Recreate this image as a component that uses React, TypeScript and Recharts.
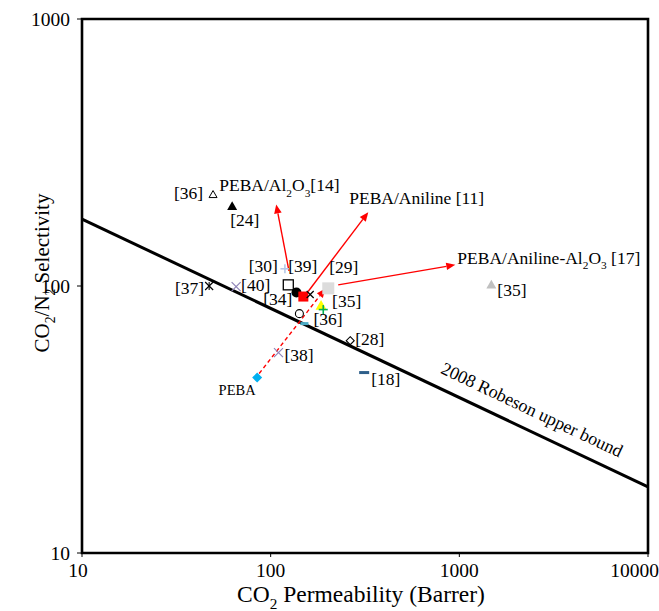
import React from 'react';
import { ScatterChart, Scatter, XAxis, YAxis, ReferenceLine, ReferenceArea } from 'recharts';

const FONT = '"Liberation Serif", "Times New Roman", serif';

const xTicks = [10, 100, 1000, 10000];
const yTicks = [10, 100, 1000];

// CO2 permeability (Barrer) vs CO2/N2 selectivity
const points = [
  { id: 'p36a', x: 49.5, y: 220, label: '[36]' },
  { id: 'p24', x: 62.5, y: 199, label: '[24]' },
  { id: 'p30', x: 119, y: 116, label: '[30]' },
  { id: 'p39', x: 124, y: 101, label: '[39]' },
  { id: 'p29', x: 202, y: 98, label: '[29]' },
  { id: 'p34', x: 137, y: 94.5, label: '[34]' },
  { id: 'pAni', x: 149, y: 91.3, label: '' },
  { id: 'pX', x: 162, y: 92.9, label: '' },
  { id: 'p37', x: 47.2, y: 100, label: '[37]' },
  { id: 'p40', x: 65.6, y: 99.5, label: '[40]' },
  { id: 'p35y', x: 185, y: 84.5, label: '[35]' },
  { id: 'p35g', x: 190, y: 81.6, label: '' },
  { id: 'p36b', x: 142, y: 78.8, label: '[36]' },
  { id: 'pDash', x: 151, y: 72.3, label: '' },
  { id: 'p28', x: 264, y: 62.4, label: '[28]' },
  { id: 'p38', x: 110, y: 56.3, label: '[38]' },
  { id: 'peba', x: 84.8, y: 45.4, label: 'PEBA' },
  { id: 'p18', x: 313, y: 47.4, label: '[18]' },
  { id: 'p35b', x: 1478, y: 101, label: '[35]' },
];

const arrows = [
  { id: 'al2o3', from: [125, 114], to: [107, 202], label: 'PEBA/Al_2O_3[14]' },
  { id: 'aniline', from: [158, 95.4], to: [329, 189], label: 'PEBA/Aniline [11]' },
  { id: 'anilineAl', from: [228, 101], to: [952, 120], label: 'PEBA/Aniline-Al_2O_3 [17]' },
  { id: 'pebaPath', from: [86.9, 47.0], to: [195, 97.8], label: '' },
];

const robesonX = [10, 10000];
const robesonY = [178, 17.7];

type Look = {
  shape: string;
  color: string;
  size: number;
  dx?: number;
  dy?: number;
  anchor?: 'start' | 'middle' | 'end';
  font?: number;
};

const look: Record<string, Look> = {
  p36a: { shape: 'triangleOpen', color: '#000', size: 8, dx: -10, dy: 4, anchor: 'end' },
  p24: { shape: 'triangle', color: '#000', size: 10, dx: -2, dy: 20 },
  p30: { shape: 'plus', color: '#b4c7e7', size: 9, dx: -7, dy: 3, anchor: 'end' },
  p39: { shape: 'squareOpen', color: '#000', size: 10, dx: 0, dy: -13 },
  p29: { shape: 'square', color: '#dcdcdc', size: 12, dx: 1, dy: -15 },
  p34: { shape: 'circle', color: '#000', size: 10, dx: -4, dy: 12, anchor: 'end' },
  pAni: { shape: 'square', color: '#ff0000', size: 10 },
  pX: { shape: 'x', color: '#000', size: 7 },
  p37: { shape: 'star', color: '#000', size: 8, dx: -5, dy: 8, anchor: 'end' },
  p40: { shape: 'x', color: '#8f84b8', size: 9, dx: 5, dy: 4 },
  p35y: { shape: 'triangle', color: '#ffff00', size: 11, dx: 11, dy: 1 },
  p35g: { shape: 'plus', color: '#00b050', size: 9 },
  p36b: { shape: 'circleOpen', color: '#000', size: 9, dx: 14, dy: 11 },
  pDash: { shape: 'dash', color: '#4bacc6', size: 8 },
  p28: { shape: 'diamondOpen', color: '#000', size: 8, dx: 5, dy: 4 },
  p38: { shape: 'x', color: '#8f84b8', size: 9, dx: 6, dy: 8 },
  peba: { shape: 'diamond', color: '#00b0f0', size: 10, dx: -20, dy: 17, anchor: 'middle', font: 14.5 },
  p18: { shape: 'dash', color: '#2e5f8a', size: 10, dx: 7, dy: 12 },
  p35b: { shape: 'triangle', color: '#c0c0c0', size: 10, dx: 6, dy: 11 },
};

const arrowLook: Record<string, { dx?: number; dy?: number; dashed?: boolean }> = {
  al2o3: { dx: -57, dy: -13 },
  aniline: { dx: -19, dy: -8 },
  anilineAl: { dx: 2, dy: -1 },
  pebaPath: { dashed: true },
};

function RichText({ text, fontSize, ...rest }: any) {
  const parts = text.split(/_(\d)/);
  const shift = fontSize * 0.3;
  return (
    <text fontFamily={FONT} fontSize={fontSize} fill="#000" style={{ whiteSpace: 'pre' }} {...rest}>
      {parts.map((p: string, i: number) => {
        if (i % 2 === 1)
          return (
            <tspan key={i} dy={shift} fontSize={fontSize * 0.65}>
              {p}
            </tspan>
          );
        return (
          <tspan key={i} dy={i > 0 ? -shift : 0}>
            {p}
          </tspan>
        );
      })}
    </text>
  );
}

function drawMarker(kind: string, cx: number, cy: number, c: string, s: number) {
  const h = s / 2;
  switch (kind) {
    case 'triangle':
      return <polygon points={`${cx},${cy - h} ${cx + h},${cy + h * 0.75} ${cx - h},${cy + h * 0.75}`} fill={c} />;
    case 'triangleOpen':
      return (
        <polygon
          points={`${cx},${cy - h} ${cx + h},${cy + h * 0.75} ${cx - h},${cy + h * 0.75}`}
          fill="none"
          stroke={c}
          strokeWidth={1}
        />
      );
    case 'square':
      return <rect x={cx - h} y={cy - h} width={s} height={s} fill={c} />;
    case 'squareOpen':
      return <rect x={cx - h} y={cy - h} width={s} height={s} fill="#fff" stroke={c} strokeWidth={1.3} />;
    case 'circle':
      return <circle cx={cx} cy={cy} r={h} fill={c} />;
    case 'circleOpen':
      return <circle cx={cx} cy={cy} r={h - 0.5} fill="none" stroke={c} strokeWidth={1.1} />;
    case 'plus':
      return (
        <g stroke={c} strokeWidth={1.6}>
          <line x1={cx - h} y1={cy} x2={cx + h} y2={cy} />
          <line x1={cx} y1={cy - h} x2={cx} y2={cy + h} />
        </g>
      );
    case 'x':
      return (
        <g stroke={c} strokeWidth={1.2}>
          <line x1={cx - h} y1={cy - h} x2={cx + h} y2={cy + h} />
          <line x1={cx - h} y1={cy + h} x2={cx + h} y2={cy - h} />
        </g>
      );
    case 'star':
      return (
        <g stroke={c} strokeWidth={1.1}>
          <line x1={cx - h} y1={cy - h} x2={cx + h} y2={cy + h} />
          <line x1={cx - h} y1={cy + h} x2={cx + h} y2={cy - h} />
          <line x1={cx} y1={cy - h} x2={cx} y2={cy + h} />
        </g>
      );
    case 'diamond':
      return <polygon points={`${cx},${cy - h} ${cx + h},${cy} ${cx},${cy + h} ${cx - h},${cy}`} fill={c} />;
    case 'diamondOpen':
      return (
        <polygon
          points={`${cx},${cy - h} ${cx + h},${cy} ${cx},${cy + h} ${cx - h},${cy}`}
          fill="none"
          stroke={c}
          strokeWidth={1.1}
        />
      );
    case 'dash':
      return <rect x={cx - h} y={cy - 1.5} width={s} height={3} fill={c} />;
    default:
      return <circle cx={cx} cy={cy} r={h} fill={c} />;
  }
}

function PointShape(props: any) {
  const { cx, cy, payload } = props;
  const st = look[payload.id];
  if (cx == null || cy == null || !st) return <g />;
  return (
    <g>
      {drawMarker(st.shape, cx, cy, st.color, st.size)}
      {payload.label && (
        <RichText
          text={payload.label}
          x={cx + (st.dx ?? 0)}
          y={cy + (st.dy ?? 0)}
          fontSize={st.font ?? 17.5}
          textAnchor={st.anchor ?? 'start'}
        />
      )}
    </g>
  );
}

function arrowShape(id: string, label: string) {
  const st = arrowLook[id] || {};
  return (p: any) => {
    const { x1, y1, x2, y2 } = p;
    const ang = Math.atan2(y2 - y1, x2 - x1);
    const L = 9;
    const W = 3.8;
    const bx = x2 - L * Math.cos(ang);
    const by = y2 - L * Math.sin(ang);
    const head = `${x2},${y2} ${bx - W * Math.sin(ang)},${by + W * Math.cos(ang)} ${bx + W * Math.sin(ang)},${by - W * Math.cos(ang)}`;
    return (
      <g>
        <line
          x1={x1}
          y1={y1}
          x2={bx}
          y2={by}
          stroke="#ff0000"
          strokeWidth={1.4}
          strokeDasharray={st.dashed ? '4 3' : undefined}
        />
        <polygon points={head} fill="#ff0000" />
        {label && <RichText text={label} x={x2 + (st.dx ?? 0)} y={y2 + (st.dy ?? 0)} fontSize={17.5} />}
      </g>
    );
  };
}

function RobesonShape(p: any) {
  const { x1, y1, x2, y2 } = p;
  const ang = Math.atan2(y2 - y1, x2 - x1);
  const t = 0.78;
  const off = 14;
  const mx = x1 + t * (x2 - x1) + off * Math.sin(ang);
  const my = y1 + t * (y2 - y1) - off * Math.cos(ang);
  const deg = (ang * 180) / Math.PI;
  return (
    <g>
      <line x1={x1} y1={y1} x2={x2} y2={y2} stroke="#000" strokeWidth={3} />
      <text
        x={mx}
        y={my}
        transform={`rotate(${deg} ${mx} ${my})`}
        textAnchor="middle"
        fontFamily={FONT}
        fontSize={18}
        fill="#000"
      >
        2008 Robeson upper bound
      </text>
    </g>
  );
}

function XTick(props: any) {
  const { x, y, payload, index } = props;
  const last = index === xTicks.length - 1;
  const first = index === 0;
  return (
    <text
      x={last ? x + 11 : first ? x - 4 : x}
      y={y}
      dy="0.71em"
      textAnchor={last ? 'end' : 'middle'}
      fontFamily={FONT}
      fontSize={19.5}
      fill="#000"
    >
      {payload.value}
    </text>
  );
}

function XTitle(props: any) {
  const vb = props.viewBox || { x: 82, y: 553, width: 566, height: 58 };
  return (
    <RichText
      text="CO_2 Permeability (Barrer)"
      x={vb.x + vb.width / 2 - 4}
      y={vb.y + 49}
      fontSize={23.5}
      textAnchor="middle"
    />
  );
}

function YTitle(props: any) {
  const vb = props.viewBox || { x: 0, y: 19, width: 82, height: 534 };
  const x = vb.x + 49;
  const y = vb.y + vb.height / 2 - 13;
  return (
    <RichText
      text="CO_2/N_2 Selectivity"
      x={x}
      y={y}
      fontSize={21}
      textAnchor="middle"
      transform={`rotate(-90 ${x} ${y})`}
    />
  );
}

export default function App() {
  return (
    <div style={{ position: 'absolute', left: 0, top: 0, background: '#fff' }}>
      <ScatterChart width={659} height={611} margin={{ top: 19, right: 11, bottom: 0, left: 0 }}>
        <XAxis
          type="number"
          dataKey="x"
          scale="log"
          domain={[10, 10000]}
          ticks={xTicks}
          interval={0}
          allowDataOverflow
          axisLine={false}
          tickLine={{ stroke: '#000' }}
          tickSize={4}
          tickMargin={6}
          height={58}
          tick={(p: any) => <XTick {...p} />}
          label={(p: any) => <XTitle {...p} />}
        />
        <YAxis
          type="number"
          dataKey="y"
          scale="log"
          domain={[10, 1000]}
          ticks={yTicks}
          interval={0}
          allowDataOverflow
          axisLine={false}
          tickLine={{ stroke: '#000' }}
          tickSize={5}
          tickMargin={7}
          width={82}
          tick={{ fontSize: 19.5, fill: '#000', fontFamily: FONT }}
          label={(p: any) => <YTitle {...p} />}
        />
        <ReferenceArea
          x1={10}
          x2={10000}
          y1={10}
          y2={1000}
          fill="none"
          fillOpacity={0}
          stroke="#000"
          strokeWidth={2.6}
          strokeOpacity={1}
          ifOverflow="visible"
        />
        <ReferenceLine
          segment={[
            { x: robesonX[0], y: robesonY[0] },
            { x: robesonX[1], y: robesonY[1] },
          ]}
          ifOverflow="visible"
          shape={RobesonShape}
        />
        <Scatter data={points} isAnimationActive={false} shape={(p: any) => <PointShape {...p} />} />
        {arrows.map((a) => (
          <ReferenceLine
            key={a.id}
            segment={[
              { x: a.from[0], y: a.from[1] },
              { x: a.to[0], y: a.to[1] },
            ]}
            ifOverflow="visible"
            shape={arrowShape(a.id, a.label)}
          />
        ))}
      </ScatterChart>
    </div>
  );
}
